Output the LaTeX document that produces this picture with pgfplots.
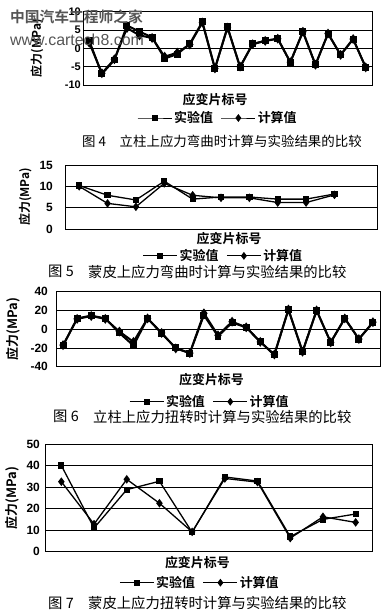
\documentclass[border=0pt]{standalone}
\usepackage{fontspec}
\setmainfont{Liberation Sans}
\newfontfamily\cjk{Noto Sans CJK SC}[BoldFont={Noto Sans CJK SC Bold}]
\usepackage{pgfplots}
\pgfplotsset{compat=1.18}
\usepackage{pgfplotstable}

\pgfplotstableread{
x exp calc
1 2 1.5
2 -7 -6.8
3 -3.2 -3
4 6.2 5.5
5 4.5 3.5
6 3 2.8
7 -2.8 -2.3
8 -1.6 -1.2
9 1.2 1.0
10 7.2 7.0
11 -5.5 -5.5
12 5.8 5.6
13 -5.2 -5
14 1.2 1.1
15 2 2
16 2.6 2.6
17 -3.8 -3.8
18 4.5 4.5
19 -4.5 -4.5
20 4 4
21 -1.8 -1.8
22 2.5 2.5
23 -5.2 -5.2
}\dataA

\pgfplotstableread{
x exp calc
1 10.2 10.0
2 7.9 6.0
3 6.8 5.2
4 11.2 10.7
5 7.0 7.9
6 7.5 7.3
7 7.5 7.3
8 7.0 6.2
9 7.0 6.2
10 8.2 8.0
}\dataB

\pgfplotstableread{
x exp calc
1 -17.5 -17
2 11.5 11
3 14.5 14
4 11.5 11
5 -4 -2.5
6 -17.5 -13.5
7 11.5 11.5
8 -4.5 -4
9 -20 -20.5
10 -25.5 -25.5
11 15 17
12 -7.5 -6.5
13 7 8
14 2 2
15 -13.5 -13.5
16 -27.5 -27
17 21 21
18 -24 -24
19 20 20
20 -14 -14
21 11.5 11.5
22 -10.5 -10.5
23 7 7.5
}\dataC

\pgfplotstableread{
x exp calc
1 40 32.5
2 11 12.8
3 28.8 33.6
4 32.7 22.5
5 9 9.2
6 34.7 34
7 32.8 32.3
8 7 6.3
9 15 16.2
10 17.5 13.6
}\dataD

\pgfplotsset{
  chart/.style={
    scale only axis, anchor=north west,
    xmin=0.5,
    axis line style={black, line width=0.8pt},
    xtick=\empty,
    ymajorgrids, grid style={black, line width=0.6pt},
    major tick length=0pt,
    /pgf/number format/assume math mode=true,
    yticklabel style={font=\fontsize{11}{12}\selectfont\bfseries, inner sep=0pt, anchor=east},
    ylabel={应力(MPa)},
    ylabel style={font=\cjk\bfseries\fontsize{12}{13}\selectfont, anchor=center},
    xlabel={应变片标号},
    xlabel style={font=\cjk\bfseries\fontsize{13}{14}\selectfont, anchor=center},
    legend style={draw=none, fill=none, font=\cjk\bfseries\fontsize{13}{14}\selectfont,
      legend columns=2, anchor=center, inner sep=0pt,
      /tikz/every even column/.append style={column sep=6bp}},
    legend image code/.code={\draw[mark repeat=2,mark phase=2,##1] plot coordinates {(0bp,0bp) (17bp,0bp) (34bp,0bp)};},
    legend image post style={line width=0.8pt},
  },
  expst/.style={black, line width=2pt, mark=square*, mark size=2.5pt, mark options={solid}},
  calcst/.style={black, line width=2pt, mark=diamond*, mark size=3.3pt, mark options={solid}},
}

\begin{document}
\begin{tikzpicture}
\path[use as bounding box] (0,0) rectangle (387bp,615bp);

% Figure 4
\begin{axis}[chart, at={(83bp,603.5bp)}, width=289bp, height=73.5bp,
  xmax=23.5, ymin=-10, ymax=10, ytick={-10,-5,0,5,10},
  yticklabel style={xshift=-2bp},
  ylabel style={at={(axis description cs:-0.159,0.5)}},
  xlabel style={at={(axis description cs:0.457,-0.204)}},
  legend style={at={(axis description cs:0.467,-0.449)}}]
\addplot[expst] table[x=x,y=exp] {\dataA};
\addplot[calcst] table[x=x,y=calc] {\dataA};
\legend{实验值,计算值}
\end{axis}

% Figure 5
\begin{axis}[chart, at={(65bp,450bp)}, width=312bp, height=64bp,
  xmax=11.5, ymin=0, ymax=15, ytick={0,5,10,15},
  yticklabel style={xshift=-12bp, font=\fontsize{12}{13}\selectfont\bfseries},
  ylabel style={at={(axis description cs:-0.128,0.5)}},
  xlabel style={at={(axis description cs:0.526,-0.156)}},
  legend style={at={(axis description cs:0.508,-0.42)}}]
\addplot[expst, line width=1.3pt] table[x=x,y=exp] {\dataB};
\addplot[calcst, line width=1.3pt] table[x=x,y=calc] {\dataB};
\legend{实验值,计算值}
\end{axis}

% Figure 6
\begin{axis}[chart, at={(56bp,323.3bp)}, width=324bp, height=75bp,
  xmax=23.5, ymin=-40, ymax=40, ytick={-40,-20,0,20,40},
  yticklabel style={xshift=-8bp, font=\fontsize{12}{13}\selectfont\bfseries},
  ylabel style={at={(axis description cs:-0.133,0.5)}, font=\cjk\bfseries\fontsize{13}{14}\selectfont},
  xlabel style={at={(axis description cs:0.48,-0.177)}},
  legend style={at={(axis description cs:0.475,-0.467)}}]
\addplot[expst] table[x=x,y=exp] {\dataC};
\addplot[calcst] table[x=x,y=calc] {\dataC};
\legend{实验值,计算值}
\end{axis}

% Figure 7
\begin{axis}[chart, at={(45bp,171bp)}, width=327bp, height=107.7bp,
  xmax=10.5, ymin=0, ymax=50, ytick={0,10,20,30,40,50},
  yticklabel style={xshift=-5bp, font=\fontsize{12}{13}\selectfont\bfseries},
  ylabel style={at={(axis description cs:-0.101,0.5)}, font=\cjk\bfseries\fontsize{13}{14}\selectfont},
  xlabel style={at={(axis description cs:0.466,-0.105)}},
  legend style={at={(axis description cs:0.474,-0.288)}}]
\addplot[expst, line width=1.3pt] table[x=x,y=exp] {\dataD};
\addplot[calcst, line width=1.3pt] table[x=x,y=calc] {\dataD};
\legend{实验值,计算值}
\end{axis}

% captions
\node[anchor=west, inner sep=0pt, font=\cjk\fontsize{13.5}{14}\selectfont] at (82bp,473.3bp) {图 4};
\node[anchor=west, inner sep=0pt, font=\cjk\fontsize{13.5}{14}\selectfont] at (119.5bp,473.3bp) {立柱上应力弯曲时计算与实验结果的比较};
\node[anchor=west, inner sep=0pt, font=\cjk\fontsize{14.4}{15}\selectfont] at (48bp,343.3bp) {图 5};
\node[anchor=west, inner sep=0pt, font=\cjk\fontsize{14.4}{15}\selectfont] at (88bp,343.3bp) {蒙皮上应力弯曲时计算与实验结果的比较};
\node[anchor=west, inner sep=0pt, font=\cjk\fontsize{14.4}{15}\selectfont] at (53bp,198.3bp) {图 6};
\node[anchor=west, inner sep=0pt, font=\cjk\fontsize{14.4}{15}\selectfont] at (93bp,198.3bp) {立柱上应力扭转时计算与实验结果的比较};
\node[anchor=west, inner sep=0pt, font=\cjk\fontsize{14.4}{15}\selectfont] at (48bp,11.7bp) {图 7};
\node[anchor=west, inner sep=0pt, font=\cjk\fontsize{14.4}{15}\selectfont] at (88bp,11.7bp) {蒙皮上应力扭转时计算与实验结果的比较};

% watermark
\node[anchor=west, inner sep=0pt, text={rgb,255:red,85;green,85;blue,85}, font=\cjk\bfseries\fontsize{14.8}{15}\selectfont] at (10bp,598bp) {中国汽车工程师之家};
\node[anchor=west, inner sep=0pt, text={rgb,255:red,85;green,85;blue,85}, font=\fontsize{16}{17}\selectfont] at (10bp,575bp) {www.cartech8.com};
\end{tikzpicture}
\end{document}
